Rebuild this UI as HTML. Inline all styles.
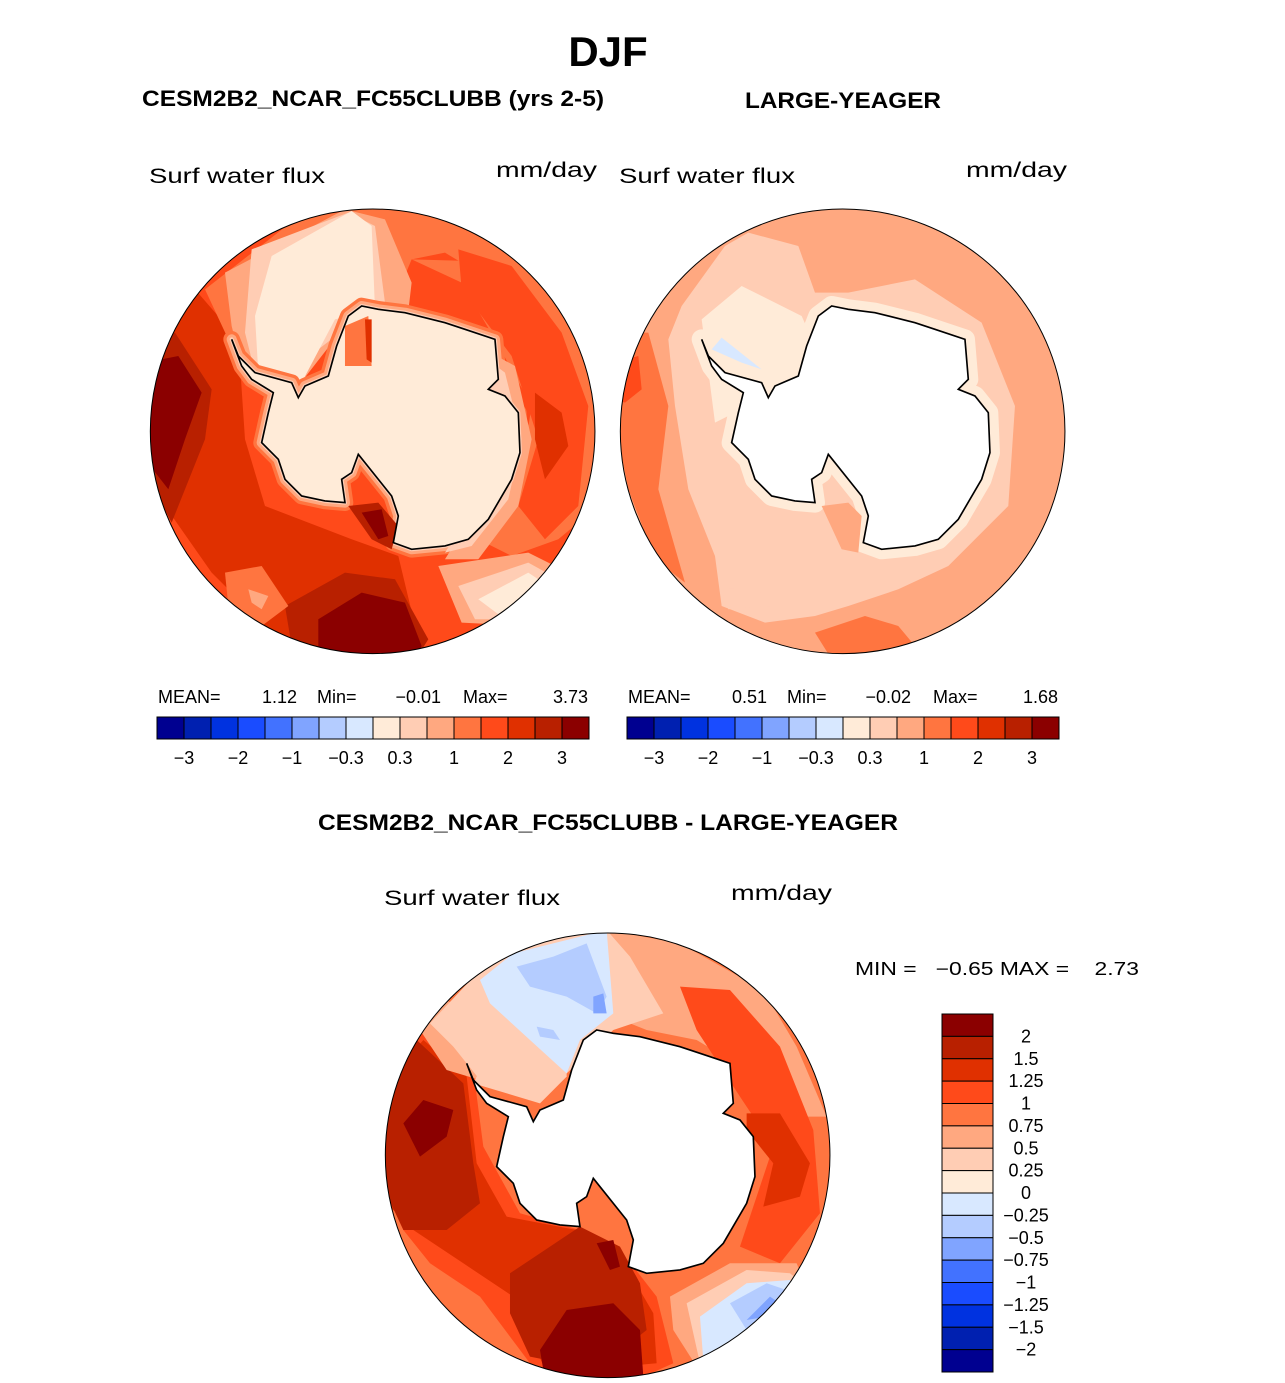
<!DOCTYPE html>
<html><head><meta charset="utf-8"><style>
html,body{margin:0;padding:0;background:#fff;}
svg{display:block;font-family:"Liberation Sans",sans-serif;}
.t{font-weight:bold;fill:#000;}
.l{fill:#000;font-size:21px;}
.s{fill:#000;font-size:18px;}
</style></head><body>
<svg id="fig" width="1285" height="1383" viewBox="0 0 1285 1383" xmlns="http://www.w3.org/2000/svg">
<defs>
<clipPath id="cc"><circle cx="683" cy="676" r="667"/></clipPath>
<polygon id="ant" points="460,575 480,540 550,510 575,420 610,330 650,300 700,310 780,320 900,350 960,370 1050,400 1060,520 1030,550 1080,570 1120,620 1125,740 1100,820 1030,940 970,1000 900,1020 800,1030 745,1010 760,930 740,870 640,745 620,800 590,820 600,890 540,885 470,870 420,820 400,760 350,710 370,620 385,560 320,520 290,480 260,400 280,450 330,500 440,530"/>
</defs>

<text class="t" x="608" y="66" font-size="42" text-anchor="middle">DJF</text>
<text class="t" x="142" y="106" font-size="22" textLength="462" lengthAdjust="spacingAndGlyphs">CESM2B2_NCAR_FC55CLUBB (yrs 2-5)</text>
<text class="t" x="745" y="108" font-size="22" textLength="196" lengthAdjust="spacingAndGlyphs">LARGE-YEAGER</text>
<text class="t" x="318" y="830" font-size="22" textLength="580" lengthAdjust="spacingAndGlyphs">CESM2B2_NCAR_FC55CLUBB - LARGE-YEAGER</text>

<text class="l" x="149" y="183" textLength="176" lengthAdjust="spacingAndGlyphs">Surf water flux</text>
<text class="l" x="496" y="177" textLength="101" lengthAdjust="spacingAndGlyphs">mm/day</text>
<text class="l" x="619" y="183" textLength="176" lengthAdjust="spacingAndGlyphs">Surf water flux</text>
<text class="l" x="966" y="177" textLength="101" lengthAdjust="spacingAndGlyphs">mm/day</text>
<text class="l" x="384" y="905" textLength="176" lengthAdjust="spacingAndGlyphs">Surf water flux</text>
<text class="l" x="731" y="900" textLength="101" lengthAdjust="spacingAndGlyphs">mm/day</text>

<!-- Left map -->
<g transform="translate(145,206) scale(0.3333)">
<g clip-path="url(#cc)">
<rect x="0" y="0" width="1400" height="1400" fill="#ff4a1a"/>
<polygon fill="#e03000" points="20,400 150,250 280,400 300,700 360,900 620,1000 760,1050 820,1300 700,1360 400,1300 200,1100 60,900"/>
<polygon fill="#b82000" points="0,420 90,380 200,550 180,700 80,950 0,800"/>
<polygon fill="#b82000" points="420,1200 600,1100 750,1120 850,1300 800,1380 450,1380"/>
<polygon fill="#8b0000" points="0,470 100,450 170,560 120,700 70,850 0,760"/>
<polygon fill="#8b0000" points="520,1240 650,1160 780,1190 830,1320 800,1380 520,1380"/>
<polygon fill="#ff7540" points="180,250 450,40 700,0 950,50 1150,170 1000,200 900,140 800,160 750,280 620,300 380,380 250,400"/>
<polygon fill="#ff7540" points="1150,170 1290,320 1360,560 1360,900 1240,1000 1100,1050 1000,1000 1120,850 1160,600 1050,400 950,230 800,160"/>
<polygon fill="#ff4a1a" points="940,130 1100,180 1250,380 1330,600 1300,900 1200,1000 1120,900 1180,700 1100,450 950,250"/>
<polygon fill="#e03000" points="1170,560 1250,620 1270,720 1200,820 1170,700"/>
<polygon fill="#ff7540" points="240,1100 350,1080 430,1200 350,1260 250,1200"/>
<polygon fill="#ffa880" points="310,1150 370,1170 350,1210 320,1190"/>
<polygon fill="#ffa880" points="880,1080 1150,1040 1270,1100 1150,1260 950,1250"/>
<polygon fill="#ffcdb4" points="940,1140 1150,1070 1240,1120 1080,1240 990,1240"/>
<polygon fill="#ffebd8" points="1000,1180 1150,1100 1210,1140 1060,1225"/>
<polygon fill="#ffa880" points="240,200 600,10 720,40 800,230 780,400 600,360 460,540 300,520 260,360"/>
<polygon fill="#ffcdb4" points="320,130 610,20 690,60 720,290 650,330 520,430 450,530 330,500 300,380"/>
<polygon fill="#ffebd8" points="380,150 620,15 680,60 690,310 570,340 470,530 340,500 330,330"/>
<use href="#ant" fill="#ff7540" stroke="#ff7540" stroke-width="50" stroke-linejoin="round"/>
<use href="#ant" fill="#ffa880" stroke="#ffa880" stroke-width="30" stroke-linejoin="round"/>
<polygon fill="#ffa880" points="1000,420 1110,480 1160,700 1120,900 1000,1060 900,1060 1000,900"/>
<polygon fill="#ffcdb4" points="1000,440 1080,500 1130,700 1090,880 980,1020 900,1040 990,900"/>
<use href="#ant" fill="#ffcdb4" stroke="#ffcdb4" stroke-width="12" stroke-linejoin="round"/>
<polygon fill="#b82000" points="610,900 700,890 760,960 740,1030 680,1000"/>
<polygon fill="#8b0000" points="650,920 710,910 730,990 700,1000"/>
<use href="#ant" fill="#ffebd8"/>
<polygon fill="#ff7540" points="600,360 670,330 680,480 600,480"/>
<polygon fill="#e03000" points="660,340 680,340 680,470 665,460"/>
</g>
<use href="#ant" fill="none" stroke="#000" stroke-width="5"/>
<circle cx="683" cy="676" r="667" fill="none" stroke="#000" stroke-width="3"/>
</g>

<!-- Right map -->
<g transform="translate(615,206) scale(0.3333)">
<g clip-path="url(#cc)">
<rect x="0" y="0" width="1400" height="1400" fill="#ffa880"/>
<polygon fill="#ff7540" points="0,380 100,380 160,600 130,850 210,1130 120,1060 40,850 0,650"/>
<polygon fill="#ff4a1a" points="0,470 70,450 80,550 30,590 0,580"/>
<polygon fill="#ff7540" points="600,1280 750,1230 850,1260 900,1320 650,1360"/>
<polygon fill="#ffcdb4" points="200,300 330,120 400,80 550,120 600,260 700,260 900,220 1100,350 1200,600 1180,900 1000,1080 850,1150 700,1200 600,1230 450,1250 320,1200 300,1050 220,850 180,600 160,400"/>
<polygon fill="#ffcdb4" points="320,1150 420,1140 470,1200 340,1210"/>
<polygon fill="#ffebd8" points="260,340 380,240 560,330 600,420 560,560 470,560 360,620 300,650"/>
<use href="#ant" fill="#ffebd8" stroke="#ffebd8" stroke-width="60" stroke-linejoin="round"/>
<polygon fill="#ffa880" points="620,900 700,890 740,930 730,1040 680,1030"/>
<polygon fill="#d8e8ff" points="290,430 320,395 440,490 380,470"/>
<use href="#ant" fill="#fff"/>
</g>
<use href="#ant" fill="none" stroke="#000" stroke-width="5"/>
<circle cx="683" cy="676" r="667" fill="none" stroke="#000" stroke-width="3"/>
</g>

<!-- Diff map -->
<g transform="translate(380,930) scale(0.3333)">
<g clip-path="url(#cc)">
<rect x="0" y="0" width="1400" height="1400" fill="#ff7540"/>
<polygon fill="#ff4a1a" points="0,450 150,280 280,420 310,650 420,850 600,900 760,1010 830,1100 880,1300 700,1380 450,1300 300,1100 150,1000 70,900"/>
<polygon fill="#e03000" points="0,480 130,330 260,440 290,700 380,860 590,900 750,1030 820,1150 830,1300 500,1330 400,1100 250,1000 100,900 0,800"/>
<polygon fill="#b82000" points="0,560 110,330 250,460 280,700 300,820 200,900 70,900 0,750"/>
<polygon fill="#b82000" points="390,1030 600,890 720,950 780,1060 800,1200 650,1320 450,1280 390,1150"/>
<polygon fill="#8b0000" points="70,580 130,510 220,540 200,620 120,680"/>
<polygon fill="#8b0000" points="480,1260 560,1140 700,1120 780,1200 790,1340 600,1360 490,1320"/>
<polygon fill="#8b0000" points="650,940 700,930 720,1010 690,1020"/>
<polygon fill="#ffa880" points="680,0 900,40 1150,180 1250,350 1340,560 1230,560 1100,420 950,330 800,300 700,260"/>
<polygon fill="#ff4a1a" points="900,170 1050,180 1200,350 1300,600 1320,850 1200,1000 1080,950 1130,800 1180,650 1080,500 950,300"/>
<polygon fill="#e03000" points="1100,550 1200,550 1290,700 1260,800 1150,830 1180,700 1100,600"/>
<polygon fill="#ffa880" points="120,300 200,210 330,300 300,450 200,420"/>
<polygon fill="#ffcdb4" points="150,280 300,120 450,40 680,0 750,80 850,250 700,300 560,430 480,460 300,450 220,350"/>
<polygon fill="#ffcdb4" points="280,460 360,300 560,330 560,440 480,520"/>
<polygon fill="#d8e8ff" points="300,150 400,70 680,0 700,250 600,330 560,430 450,330 330,220"/>
<polygon fill="#b4ccff" points="410,110 520,80 620,40 680,200 650,250 560,200 450,170"/>
<polygon fill="#b4ccff" points="470,290 520,300 540,330 480,320"/>
<polygon fill="#80a4ff" points="640,200 670,190 680,250 640,250"/>
<polygon fill="#ffa880" points="870,1100 1050,1000 1250,1000 1290,1100 1100,1290 950,1310 880,1200"/>
<polygon fill="#ffcdb4" points="920,1120 1100,1020 1230,1030 1280,1070 1100,1280 960,1300"/>
<polygon fill="#d8e8ff" points="960,1160 1100,1060 1230,1050 1260,1100 1100,1270 970,1290"/>
<polygon fill="#b4ccff" points="1050,1120 1160,1060 1220,1080 1180,1180 1100,1200"/>
<polygon fill="#80a4ff" points="1100,1170 1170,1100 1200,1120 1160,1160"/>
<use href="#ant" fill="#fff"/>
</g>
<use href="#ant" fill="none" stroke="#000" stroke-width="5"/>
<circle cx="683" cy="676" r="667" fill="none" stroke="#000" stroke-width="3"/>
</g>

<g id="stats">
<text class="s" x="158" y="703">MEAN=</text>
<text class="s" x="297" y="703" text-anchor="end">1.12</text>
<text class="s" x="317" y="703">Min=</text>
<text class="s" x="441" y="703" text-anchor="end">−0.01</text>
<text class="s" x="463" y="703">Max=</text>
<text class="s" x="588" y="703" text-anchor="end">3.73</text>
<text class="s" x="628" y="703">MEAN=</text>
<text class="s" x="767" y="703" text-anchor="end">0.51</text>
<text class="s" x="787" y="703">Min=</text>
<text class="s" x="911" y="703" text-anchor="end">−0.02</text>
<text class="s" x="933" y="703">Max=</text>
<text class="s" x="1058" y="703" text-anchor="end">1.68</text>
<text class="s" x="855" y="975" textLength="284" lengthAdjust="spacingAndGlyphs" xml:space="preserve">MIN =   −0.65 MAX =    2.73</text>
</g>
<g id="bars"></g>
</svg>
<script>
const colors = ["#000090","#0020b0","#0032e0","#1a4cff","#4272ff","#80a4ff","#b4ccff","#d8e8ff","#ffebd8","#ffcdb4","#ffa880","#ff7540","#ff4a1a","#e03000","#b82000","#8b0000"];
const hLabels = ["−3","−2","−1","−0.3","0.3","1","2","3"];
const vLabels = ["2","1.5","1.25","1","0.75","0.5","0.25","0","−0.25","−0.5","−0.75","−1","−1.25","−1.5","−2"];
const NS = "http://www.w3.org/2000/svg";
const bars = document.getElementById("bars");
function mk(tag, attrs){const e=document.createElementNS(NS,tag);for(const k in attrs)e.setAttribute(k,attrs[k]);return e;}
[157, 627].forEach((x0, bi) => {
  const w = 27;
  colors.forEach((c, i) => {
    const r = mk("rect", {x: x0 + i*w, y: 717, width: w, height: 22, fill: c, stroke: "#000", "stroke-width": 1});
    
    
    bars.appendChild(r);
  });
  hLabels.forEach((t, j) => {
    const tx = mk("text", {x: x0 + (2*j+1)*w, y: 764, "text-anchor": "middle", "font-size": 18});
    tx.textContent = t;
    
    
    bars.appendChild(tx);
  });
});
const vy0 = 1014, vh = 358/16;
colors.slice().reverse().forEach((c, i) => {
  const r = mk("rect", {x: 942, y: vy0 + i*vh, width: 51, height: vh, fill: c, stroke: "#000", "stroke-width": 1});
  
  
  bars.appendChild(r);
});
vLabels.forEach((t, i) => {
  const tx = mk("text", {x: 1026, y: vy0 + (i+1)*vh + 6, "text-anchor": "middle", "font-size": 18});
  tx.textContent = t;
  
  
  bars.appendChild(tx);
});
</script>
</body></html>
